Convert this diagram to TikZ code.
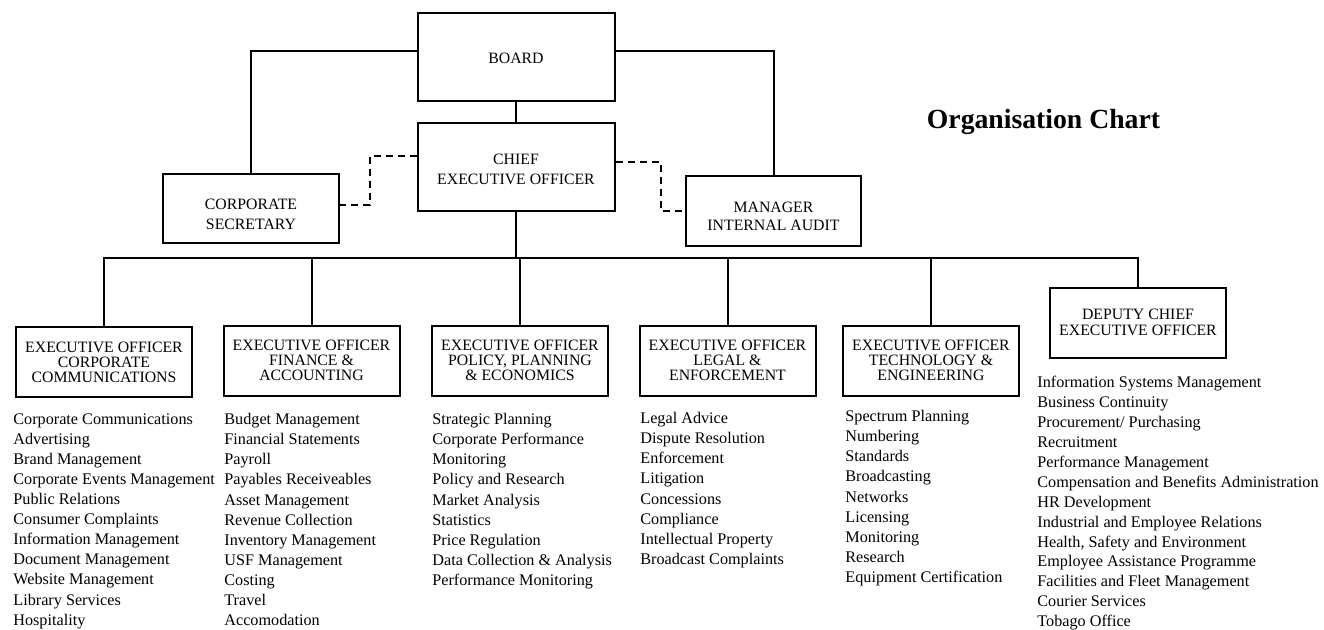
\documentclass[tikz,border=0pt]{standalone}
\usepackage{fontspec}
\setmainfont{Liberation Serif}

\tikzset{
  office/.style={draw, line width=1pt, align=center, inner sep=2pt,
    minimum width=88pt, minimum height=35pt, font=\fontsize{7.9}{7.5}\selectfont},
  duties/.style={anchor=north west, align=left, inner sep=0pt,
    font=\fontsize{8.1}{10.05}\selectfont},
  link/.style={line width=1pt},
  dotlink/.style={line width=1pt, dash pattern=on 3.5pt off 2.5pt}
}

\begin{document}
\begin{tikzpicture}[x=0.5pt, y=-0.5pt]
    \useasboundingbox (0,0) rectangle (1324,629);
    % top of the chart
    \node[office, minimum width=98.5pt, minimum height=44pt] (board) at (516,57) {\rule{0pt}{6.2pt}BOARD};
    \node[office, minimum width=98.5pt, minimum height=44pt, font=\fontsize{7.9}{10}\selectfont] (ceo) at (516,167) {\rule{0pt}{7.7pt}CHIEF\\EXECUTIVE OFFICER};
    \node[office, minimum height=34.5pt, font=\fontsize{7.9}{10}\selectfont] (corpsec) at (251,208.5) {\rule{0pt}{11.2pt}CORPORATE\\SECRETARY};
    \node[office, minimum width=87.5pt, font=\fontsize{7.9}{9}\selectfont] (audit) at (773.5,211) {\rule{0pt}{10.2pt}MANAGER\\INTERNAL AUDIT};
    \node[font=\fontsize{13.85}{16}\bfseries] (title) at (1043.5,122) {Organisation Chart};

    \draw[link] (board.south) -- (ceo.north);
    \draw[link] ([yshift=3pt]board.west) -| (corpsec.north);
    \draw[link] ([yshift=3pt]board.east) -| (audit.north);
    \draw[dotlink] ([yshift=5.5pt]ceo.west) -- ++(-47,0) |- ([yshift=1.75pt]corpsec.east);
    \draw[dotlink] ([yshift=2.5pt]ceo.east) -- ++(45,0) |- (audit.west);

    % executive officers
    \node[office] (eocc) at (104,362) {EXECUTIVE OFFICER\\CORPORATE\\COMMUNICATIONS};
    \node[office] (eofa) at (311.5,360.5) {EXECUTIVE OFFICER\\FINANCE \&\\ACCOUNTING};
    \node[office] (eoppe) at (520,360.5) {EXECUTIVE OFFICER\\POLICY, PLANNING\\\& ECONOMICS};
    \node[office] (eole) at (727.5,360.5) {EXECUTIVE OFFICER\\LEGAL \&\\ENFORCEMENT};
    \node[office] (eote) at (931,360.5) {EXECUTIVE OFFICER\\TECHNOLOGY \&\\ENGINEERING};
    \node[office, font=\fontsize{7.9}{8}\selectfont] (deputy) at (1138,322.5) {DEPUTY CHIEF\\EXECUTIVE OFFICER};

    \coordinate (bus) at (0,258);
    \draw[link] (ceo.south) -- (ceo.south |- bus);
    \draw[link] (eocc.north) -- (eocc.north |- bus) -- (deputy.north |- bus) -- (deputy.north);
    \draw[link] (eofa.north) -- (eofa.north |- bus);
    \draw[link] (eoppe.north) -- (eoppe.north |- bus);
    \draw[link] (eole.north) -- (eole.north |- bus);
    \draw[link] (eote.north) -- (eote.north |- bus);

    % what each office covers
    \node[duties] (cclist) at (13,413) {Corporate Communications\\Advertising\\Brand Management\\Corporate Events Management\\Public Relations\\Consumer Complaints\\Information Management\\Document Management\\Website Management\\Library Services\\Hospitality};
    \node[duties] (falist) at (224,413) {Budget Management\\Financial Statements\\Payroll\\Payables Receiveables\\Asset Management\\Revenue Collection\\Inventory Management\\USF Management\\Costing\\Travel\\Accomodation};
    \node[duties] (ppelist) at (432,413) {Strategic Planning\\Corporate Performance\\Monitoring\\Policy and Research\\Market Analysis\\Statistics\\Price Regulation\\Data Collection \& Analysis\\Performance Monitoring};
    \node[duties] (lelist) at (640,412) {Legal Advice\\Dispute Resolution\\Enforcement\\Litigation\\Concessions\\Compliance\\Intellectual Property\\Broadcast Complaints};
    \node[duties] (telist) at (845,410) {Spectrum Planning\\Numbering\\Standards\\Broadcasting\\Networks\\Licensing\\Monitoring\\Research\\Equipment Certification};
    \node[duties, font=\fontsize{8.1}{9.95}\selectfont] (deplist) at (1037,376) {Information Systems Management\\Business Continuity\\Procurement/ Purchasing\\Recruitment\\Performance Management\\Compensation and Benefits Administration\\HR Development\\Industrial and Employee Relations\\Health, Safety and Environment\\Employee Assistance Programme\\Facilities and Fleet Management\\Courier Services\\Tobago Office};
\end{tikzpicture}
\end{document}
